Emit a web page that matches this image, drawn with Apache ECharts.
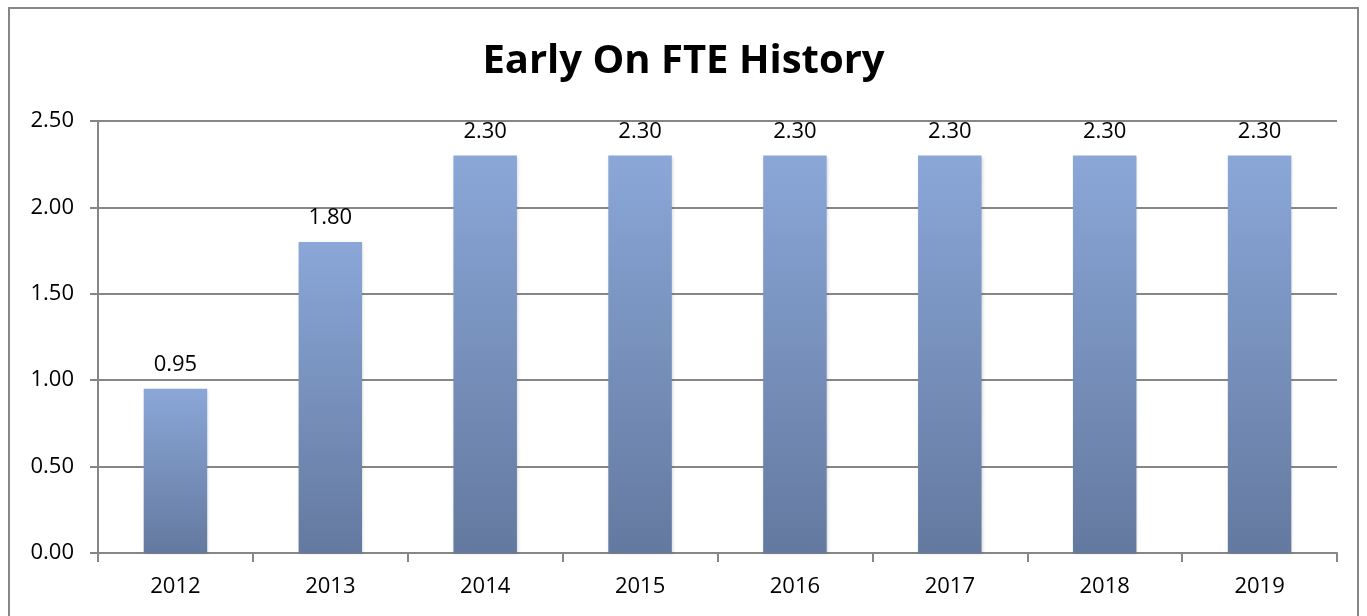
<!DOCTYPE html>
<html>
<head>
<meta charset="utf-8">
<script src="https://cdn.jsdelivr.net/npm/echarts@6/dist/echarts.min.js"></script>
<style>
  html, body { margin: 0; padding: 0; background: #fff; }
  #main { width: 1367px; height: 616px; }
</style>
</head>
<body>
<div id="main"></div>
<script>
var years = ['2012', '2013', '2014', '2015', '2016', '2017', '2018', '2019'];
var fte = [0.95, 1.80, 2.30, 2.30, 2.30, 2.30, 2.30, 2.30];
var yTicks = [0, 0.5, 1.0, 1.5, 2.0, 2.5];

(function(){
    var myChart = echarts.init(document.getElementById('main'));
    var font = '"Open Sans", "Liberation Sans", sans-serif';

    option = {
        animation: false,
        graphic: [{
            type: 'rect',
            shape: { x: 9, y: 8, width: 1349, height: 640 },
            style: { fill: 'none', stroke: '#868686', lineWidth: 2 },
            silent: true
        }],
        title: {
            text: 'Early On FTE History',
            left: 'center',
            top: 37,
            textStyle: { fontFamily: font, fontSize: 40, fontWeight: 'bold', color: '#000' }
        },
        grid: { left: 98, right: 30, top: 121, bottom: 63 },
        xAxis: {
            type: 'category',
            data: years,
            axisLine: { lineStyle: { color: '#868686', width: 2 } },
            axisTick: { show: true, length: 9, lineStyle: { color: '#868686', width: 2 } },
            axisLabel: { fontFamily: font, fontSize: 22, color: '#000', margin: 23 }
        },
        yAxis: {
            type: 'value',
            min: yTicks[0],
            max: yTicks[yTicks.length - 1],
            interval: 0.5,
            axisLine: { show: true, lineStyle: { color: '#868686', width: 2 } },
            axisTick: { show: true, length: 8, lineStyle: { color: '#868686', width: 2 } },
            splitLine: { lineStyle: { color: '#868686', width: 2 } },
            axisLabel: {
                fontFamily: font, fontSize: 22, color: '#000', margin: 24,
                formatter: function (v) { return v.toFixed(2); }
            }
        },
        series: [{
            type: 'bar',
            data: fte,
            barWidth: '41%',
            itemStyle: {
                color: new echarts.graphic.LinearGradient(0, 0, 0, 1, [
                    { offset: 0, color: '#8aa7d8' },
                    { offset: 1, color: '#64799f' }
                ]),
                shadowColor: 'rgba(0,0,0,0.15)',
                shadowBlur: 3,
                shadowOffsetX: 1,
                shadowOffsetY: 1
            },
            label: {
                show: true,
                position: 'top',
                distance: 13,
                fontFamily: font,
                fontSize: 22,
                color: '#000',
                formatter: function (p) { return p.value.toFixed(2); }
            }
        }]
    };

    myChart.setOption(option);
})();
</script>
</body>
</html>
